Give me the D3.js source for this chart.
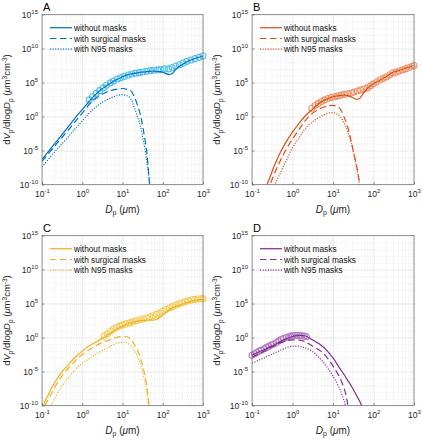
<!DOCTYPE html>
<html><head><meta charset="utf-8">
<script src="https://cdn.jsdelivr.net/npm/d3@7"></script>
<style>body{margin:0;background:#fff}svg{font-family:"Liberation Sans",Arial,sans-serif}</style>
</head><body><svg id="c" width="422" height="440"></svg>
<script>
// ---------- data ----------
const legendLabels = ["without masks", "with surgical masks", "with N95 masks"];
const panelLetters = ["A", "B", "C", "D"];
const xTickVals = [0.1, 1, 10, 100, 1000];
const xTickExp = ["-1", "0", "1", "2", "3"];
const yTickVals = [1e-10, 1e-5, 1, 1e5, 1e10, 1e15];
const yTickExp = ["-10", "-5", "0", "5", "10", "15"];

// Panel A
const xA = [0.1, 0.2, 0.3, 0.5, 0.7, 1, 1.5, 2, 3, 5, 7, 10, 13, 16, 20, 25, 28, 33, 40, 46, 50, 70, 85, 100, 140, 170, 224, 300, 500, 1000];
const solidA = [5.0e-7, 7.9e-5, 1.6e-3, 7.1e-2, 8.9e-1, 1e1, 1.8e2, 1.1e3, 1e4, 7.9e4, 2.5e5, 7.1e5, 1.3e6, 1.8e6, 2.2e6, 2.8e6, 3.2e6, 3.5e6, 4.0e6, 4.2e6, 4.5e6, 4.5e6, 4.0e6, 3.2e6, 1.6e6, 2.0e6, 1.3e7, 4.0e7, 2.0e8, 7.9e8];
const surgA = [2.5e-7, 3.5e-5, 6.3e-4, 2.2e-2, 2.5e-1, 3.2, 6.3e1, 3.2e2, 1.6e3, 6.3e3, 1e4, 1.3e4, 1e4, 6.3e3, 6.3e2, 1.6e1, 1.6, 1e-2, 6.3e-6, 5.0e-10, 1e-12, null, null, null, null, null, null, null, null, null];
const n95A = [4.0e-8, 5.0e-6, 7.1e-5, 2.2e-3, 2.2e-2, 2.2e-1, 3.2, 1.6e1, 1e2, 5.0e2, 1.1e3, 1.6e3, 1.1e3, 4.0e2, 1.6e1, 3.2e-1, 3.2e-2, 3.2e-4, 3.2e-7, 6.3e-10, 1e-11, null, null, null, null, null, null, null, null, null];
const circXA = [1.5, 1.8, 2.2, 2.7, 3.3, 4, 5, 6, 7.5, 9, 11, 14, 17, 21, 26, 32, 40, 50, 60, 75, 90, 110, 140, 170, 210, 260, 320, 400, 500, 630, 800, 1000];
const circYA = [2.8e2, 7.9e2, 2.5e3, 6.3e3, 1.6e4, 4.0e4, 8.9e4, 1.6e5, 3.2e5, 5.0e5, 7.9e5, 1.3e6, 1.8e6, 2.2e6, 2.8e6, 3.5e6, 4.5e6, 5.6e6, 6.3e6, 7.1e6, 7.9e6, 1e7, 1e7, 1.6e7, 2.5e7, 4.0e7, 7.1e7, 1.3e8, 2.0e8, 3.2e8, 5.0e8, 7.9e8];

// Panel B
const xB = [0.2, 0.235, 0.28, 0.37, 0.5, 0.7, 1, 1.5, 2, 3, 5, 8, 11, 15, 20, 25, 30, 40, 46, 50, 70, 100, 150, 200, 300, 400, 500, 700, 1000];
const solidB = [1.6e-12, 1e-10, 1.3e-9, 1e-7, 5.0e-6, 2.0e-4, 5.0e-3, 1.3e-1, 1, 1e1, 1.3e2, 5.0e2, 8.9e2, 1.3e3, 1.4e3, 1e3, 6.3e2, 3.2e2, 5.0e2, 1e3, 1.3e4, 6.3e4, 2.5e5, 6.3e5, 3.2e6, 5.0e6, 7.9e6, 1.6e7, 3.2e7];
const surgB = [3.2e-13, 6.3e-12, 1e-10, 6.3e-9, 3.2e-7, 1.6e-5, 5.0e-4, 1.6e-2, 2.0e-1, 2.5, 1.6e1, 4.0e1, 4.0e1, 1.3e1, 3.2e-1, 5.0e-3, 4.0e-5, 1.6e-8, 1e-10, 3.2e-12, null, null, null, null, null, null, null, null, null];
const n95B = [null, null, 1e-12, 1e-10, 5.0e-9, 3.2e-7, 2.5e-5, 1e-3, 1.3e-2, 1.3e-1, 1, 3.5, 3.2, 1, 5.0e-2, 1.3e-3, 2.5e-5, 6.3e-9, 5.0e-11, 3.2e-12, null, null, null, null, null, null, null, null, null];
const circXB = [3, 3.6, 4.3, 5.2, 6.2, 7.5, 9, 11, 13, 16, 19, 23, 28, 33, 40, 48, 58, 70, 84, 100, 120, 145, 175, 210, 250, 300, 360, 430, 520, 620, 750, 900, 1000];
const circYB = [1.6e1, 4.0e1, 7.9e1, 1.6e2, 2.8e2, 4.5e2, 6.3e2, 7.9e2, 1e3, 1.4e3, 1.8e3, 2.2e3, 2.8e3, 4.0e3, 5.6e3, 7.9e3, 1.1e4, 1.6e4, 3.2e4, 6.3e4, 1.3e5, 2.5e5, 4.0e5, 7.1e5, 1.3e6, 2.5e6, 3.2e6, 5.0e6, 7.1e6, 1e7, 1.6e7, 2.5e7, 3.2e7];

// Panel C
const xC = [0.1, 0.11, 0.12, 0.15, 0.17, 0.2, 0.3, 0.5, 0.7, 1, 1.5, 2, 3, 5, 7, 10, 13, 16, 20, 25, 30, 35, 40, 46, 50, 70, 100, 150, 200, 300, 500, 1000];
const solidC = [3.2e-12, 1e-10, 5.0e-10, 6.3e-9, 3.2e-8, 1.6e-7, 6.3e-6, 2.0e-4, 1.6e-3, 1e-2, 6.3e-2, 1.6e-1, 6.3e-1, 4.0, 1.6e1, 5.0e1, 8.9e1, 1.4e2, 2.0e2, 2.8e2, 3.2e2, 3.3e2, 3.5e2, 3.5e2, 3.5e2, 4.5e2, 2.0e3, 1.3e4, 3.2e4, 7.9e4, 2.0e5, 4.0e5];
const surgC = [null, 3.2e-12, 1e-10, 1.3e-9, 5.0e-9, 3.2e-8, 1.6e-6, 6.3e-5, 5.0e-4, 3.2e-3, 1.6e-2, 5.0e-2, 1.6e-1, 5.0e-1, 1, 1.4, 1.3, 6.3e-1, 7.9e-2, 6.3e-3, 2.0e-4, 6.3e-6, 7.9e-8, 1e-10, 3.2e-12, null, null, null, null, null, null, null];
const n95C = [null, null, null, 1e-11, 1e-10, 6.3e-10, 5.0e-8, 2.5e-6, 2.5e-5, 1.6e-4, 7.9e-4, 2.5e-3, 1e-2, 5.0e-2, 1.3e-1, 2.0e-1, 1.6e-1, 6.3e-2, 1e-2, 7.9e-4, 3.2e-5, 6.3e-7, 7.9e-9, 5.0e-11, 3.2e-12, null, null, null, null, null, null, null];
const circXC = [3.5, 4.2, 5, 6, 7.2, 8.6, 10, 12, 15, 18, 22, 27, 33, 40, 48, 58, 70, 84, 100, 120, 145, 175, 210, 250, 300, 360, 430, 520, 620, 750, 900, 1000];
const circYC = [1.6, 3.5, 8.9, 1.8e1, 3.2e1, 5.0e1, 7.1e1, 1e2, 1.4e2, 2.0e2, 2.8e2, 4.0e2, 5.6e2, 7.9e2, 1.1e3, 1.6e3, 2.5e3, 4.0e3, 7.1e3, 1.3e4, 2.2e4, 3.5e4, 5.6e4, 8.9e4, 1.3e5, 1.8e5, 2.5e5, 3.2e5, 4.0e5, 4.5e5, 5.0e5, 5.2e5];

// Panel D
const xD = [0.1, 0.15, 0.2, 0.3, 0.5, 0.7, 1, 1.5, 2, 3, 5, 7, 10, 15, 20, 23, 25, 30, 50, 55];
const solidD = [2.5e-3, 7.9e-3, 1.6e-2, 5.0e-2, 2.5e-1, 6.3e-1, 1.4, 2.0, 1.8, 5.0e-1, 7.9e-2, 1.3e-2, 1e-3, 2.5e-5, 2.0e-6, 5.0e-7, 2.5e-7, 4.0e-8, 1.3e-10, 3.2e-11];
const surgD = [1.3e-3, 4.0e-3, 1e-2, 4.0e-2, 1.6e-1, 3.2e-1, 4.5e-1, 4.0e-1, 2.5e-1, 6.3e-2, 1e-2, 1.3e-3, 6.3e-5, 1e-6, 1e-8, 1.6e-10, 1e-11, null, null, null];
const n95D = [1.6e-4, 5.0e-4, 1e-3, 3.2e-3, 1.3e-2, 3.2e-2, 5.0e-2, 5.0e-2, 3.2e-2, 1e-2, 6.3e-4, 5.0e-5, 2.0e-6, 2.0e-8, 1.3e-10, 3.2e-12, null, null, null, null];
const circXD = [0.1, 0.115, 0.13, 0.15, 0.17, 0.2, 0.23, 0.26, 0.3, 0.34, 0.4, 0.46, 0.53, 0.6, 0.7, 0.8, 0.9, 1.0, 1.15, 1.3, 1.5, 1.7, 1.95, 2.2];
const circYD = [2.5e-3, 4.0e-3, 6.3e-3, 1e-2, 1.4e-2, 2.2e-2, 3.5e-2, 5.0e-2, 7.9e-2, 1.1e-1, 1.8e-1, 3.2e-1, 5.0e-1, 7.1e-1, 1, 1.3, 1.6, 1.8, 2.0, 2.0, 2.0, 1.8, 1.6, 1.3];

const lineColors = ["#0072BD", "#D95319", "#EDB120", "#7E2F8E"];
const markColors = ["#4DBEEE", "#EE9366", "#F4CC55", "#B47CC2"];

// ---------- layout ----------
const boxes = [
  {x0: 42, x1: 203, y0: 14.5, y1: 184.5},
  {x0: 252, x1: 414, y0: 14.5, y1: 184.5},
  {x0: 42, x1: 203, y0: 235.5, y1: 405.5},
  {x0: 252, x1: 414, y0: 235.5, y1: 405.5}
];
const data = [
  {xs: xA, s: solidA, d: surgA, n: n95A, cx: circXA, cy: circYA},
  {xs: xB, s: solidB, d: surgB, n: n95B, cx: circXB, cy: circYB},
  {xs: xC, s: solidC, d: surgC, n: n95C, cx: circXC, cy: circYC},
  {xs: xD, s: solidD, d: surgD, n: n95D, cx: circXD, cy: circYD}
];
const dashes = [null, "6.5,3.5", "1.1,1.5"];
const txt = "#262626";

const svg = d3.select("#c");

boxes.forEach((b, pi) => {
  const x = d3.scaleLog().domain([0.1, 1000]).range([b.x0, b.x1]);
  const y = d3.scaleLog().domain([1e-10, 1e15]).range([b.y1, b.y0]);
  const g = svg.append("g");
  const W = b.x1 - b.x0, H = b.y1 - b.y0;

  // minor grid
  const xMinor = [];
  for (let e = -1; e < 3; e++) for (let k = 2; k <= 9; k++) xMinor.push(k * Math.pow(10, e));
  const yMinor = d3.range(-10, 16).filter(e => e % 5 !== 0).map(e => Math.pow(10, e));
  g.append("g").call(d3.axisBottom(x).tickValues(xMinor).tickSize(-H).tickFormat(""))
    .attr("transform", `translate(0,${b.y1})`)
    .call(a => { a.select(".domain").remove(); a.selectAll("line").attr("stroke", "#e0e0e0").attr("stroke-width", 0.5).attr("stroke-dasharray", "1,1"); });
  g.append("g").call(d3.axisLeft(y).tickValues(yMinor).tickSize(-W).tickFormat(""))
    .attr("transform", `translate(${b.x0},0)`)
    .call(a => { a.select(".domain").remove(); a.selectAll("line").attr("stroke", "#e0e0e0").attr("stroke-width", 0.5).attr("stroke-dasharray", "1,1"); });
  // major grid
  g.append("g").call(d3.axisBottom(x).tickValues(xTickVals).tickSize(-H).tickFormat(""))
    .attr("transform", `translate(0,${b.y1})`)
    .call(a => { a.select(".domain").remove(); a.selectAll("line").attr("stroke", "#d6d6d6").attr("stroke-width", 0.5); });
  g.append("g").call(d3.axisLeft(y).tickValues(yTickVals).tickSize(-W).tickFormat(""))
    .attr("transform", `translate(${b.x0},0)`)
    .call(a => { a.select(".domain").remove(); a.selectAll("line").attr("stroke", "#d6d6d6").attr("stroke-width", 0.5); });

  // clip
  const cid = "clip" + pi;
  svg.append("clipPath").attr("id", cid).append("rect")
    .attr("x", b.x0).attr("y", b.y0).attr("width", W).attr("height", H);

  const D = data[pi];
  // circles
  g.append("g").selectAll("circle").data(D.cx.map((v, i) => [v, D.cy[i]])).join("circle")
    .attr("cx", d => x(d[0])).attr("cy", d => y(d[1])).attr("r", 3)
    .attr("fill", "none").attr("stroke", markColors[pi]).attr("stroke-width", 1.1);

  // lines
  const series = [D.s, D.d, D.n];
  const lg = g.append("g").attr("clip-path", `url(#${cid})`);
  series.forEach((vals, si) => {
    const pts = D.xs.map((v, i) => [v, vals[i]]);
    const line = d3.line().defined(d => d[1] != null)
      .x(d => x(d[0])).y(d => y(d[1])).curve(d3.curveCatmullRom.alpha(0.5));
    lg.append("path").attr("d", line(pts)).attr("fill", "none")
      .attr("stroke", lineColors[pi]).attr("stroke-width", 1.2)
      .attr("stroke-dasharray", dashes[si]);
  });

  // axes with tick labels
  const ax = g.append("g").attr("transform", `translate(0,${b.y1})`)
    .call(d3.axisBottom(x).tickValues(xTickVals).tickSizeInner(-2.5).tickSizeOuter(0).tickPadding(6).tickFormat(""));
  ax.attr("font-family", null).attr("font-size", 8.5);
  ax.select(".domain").remove();
  ax.selectAll(".tick line").attr("stroke", txt).attr("stroke-width", 0.5);
  ax.selectAll(".tick text").attr("fill", txt).each(function(d, i) {
    const t = d3.select(this);
    t.append("tspan").text("10");
    t.append("tspan").attr("dy", -3.5).attr("font-size", 6).text(xTickExp[i]);
  });
  const ay = g.append("g").attr("transform", `translate(${b.x0},0)`)
    .call(d3.axisLeft(y).tickValues(yTickVals).tickSizeInner(-2.5).tickSizeOuter(0).tickPadding(4).tickFormat(""));
  ay.attr("font-family", null).attr("font-size", 8.5);
  ay.select(".domain").remove();
  ay.selectAll(".tick line").attr("stroke", txt).attr("stroke-width", 0.5);
  ay.selectAll(".tick text").attr("fill", txt).each(function(d, i) {
    const t = d3.select(this);
    t.append("tspan").text("10");
    t.append("tspan").attr("dy", -3.5).attr("font-size", 6).text(yTickExp[i]);
  });

  // box
  g.append("rect").attr("x", b.x0).attr("y", b.y0).attr("width", W).attr("height", H)
    .attr("fill", "none").attr("stroke", "#6e6e6e").attr("stroke-width", 0.7);

  // legend
  const legY = [13.2, 24.0, 34.6];
  legendLabels.forEach((lab, li) => {
    const yy = b.y0 + legY[li];
    g.append("line").attr("x1", b.x0 + 8).attr("x2", b.x0 + 30).attr("y1", yy).attr("y2", yy)
      .attr("stroke", lineColors[pi]).attr("stroke-width", 1.2).attr("stroke-dasharray", dashes[li]);
    g.append("text").attr("x", b.x0 + 32).attr("y", yy + 3).attr("font-size", 8.3)
      .attr("fill", "#111").text(lab);
  });

  // panel letter
  g.append("text").attr("x", b.x0 + 1).attr("y", b.y0 - 3.5).attr("font-size", 11)
    .attr("fill", "#000").text(panelLetters[pi]);

  // x label
  const xl = g.append("text").attr("x", (b.x0 + b.x1) / 2).attr("y", b.y1 + 28)
    .attr("text-anchor", "middle").attr("font-size", 10).attr("fill", txt);
  xl.append("tspan").attr("font-style", "italic").text("D");
  xl.append("tspan").attr("dy", 2.5).attr("font-size", 7).text("p");
  xl.append("tspan").attr("dy", -2.5).text(" (");
  xl.append("tspan").attr("font-style", "italic").text("μ");
  xl.append("tspan").text("m)");

  // y label
  const yl = g.append("text").attr("transform", `translate(${b.x0 - 32},${(b.y0 + b.y1) / 2}) rotate(-90)`)
    .attr("text-anchor", "middle").attr("font-size", 9.5).attr("fill", txt);
  yl.append("tspan").text("d");
  yl.append("tspan").attr("font-style", "italic").text("V");
  yl.append("tspan").attr("dy", 2.5).attr("font-size", 6.5).text("p");
  yl.append("tspan").attr("dy", -2.5).text("/dlog");
  yl.append("tspan").attr("font-style", "italic").text("D");
  yl.append("tspan").attr("dy", 2.5).attr("font-size", 6.5).text("p");
  yl.append("tspan").attr("dy", -2.5).text(" (");
  yl.append("tspan").attr("font-style", "italic").text("μ");
  yl.append("tspan").text("m");
  yl.append("tspan").attr("dy", -3.5).attr("font-size", 6.5).text("3");
  yl.append("tspan").attr("dy", 3.5).text("cm");
  yl.append("tspan").attr("dy", -3.5).attr("font-size", 6.5).text("-3");
  yl.append("tspan").attr("dy", 3.5).text(")");
});
</script>
</body></html>
